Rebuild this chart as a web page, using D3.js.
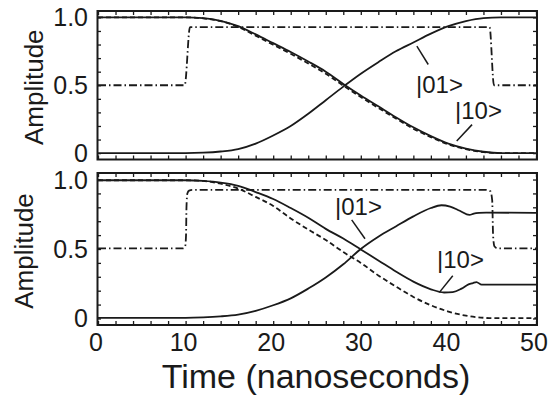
<!DOCTYPE html>
<html lang="en">
<head>
<meta charset="UTF-8"/>
<title>Amplitude vs time</title>
<script src="https://d3js.org/d3.v7.min.js"></script>
<style>
	body { margin: 0; background: #fff; }
	text { font-family: "Liberation Sans", Arial, sans-serif; fill: #1a1a1a; }
</style>
</head>
<body>
<script>
	// ***Data***
	// top panel
	var topSolidFallT = [0, 10, 12, 14, 16, 18, 20, 22, 24, 26, 28, 30, 32, 34, 36, 38, 40, 42, 44, 46, 50];
	var topSolidFallV = [1, 1, 0.995, 0.975, 0.935, 0.875, 0.81, 0.745, 0.675, 0.6, 0.51, 0.425, 0.345, 0.265, 0.19, 0.125, 0.07, 0.033, 0.01, 0, 0];
	var topDashT = [0, 10, 12, 14, 16, 18, 20, 22, 24, 26, 28, 30, 32, 34, 36, 38, 40, 42, 44, 46, 50];
	var topDashV = [1, 1, 0.993, 0.972, 0.93, 0.865, 0.798, 0.732, 0.66, 0.585, 0.497, 0.413, 0.333, 0.255, 0.18, 0.117, 0.064, 0.029, 0.008, 0, 0];
	var topSolidRiseT = [0, 10, 12, 14, 16, 18, 20, 22, 24, 26, 28, 30, 32, 34, 36, 38, 40, 42, 44, 46, 50];
	var topSolidRiseV = [0, 0, 0.003, 0.012, 0.03, 0.07, 0.13, 0.2, 0.29, 0.39, 0.49, 0.585, 0.67, 0.75, 0.815, 0.88, 0.935, 0.973, 0.995, 1, 1];
	var topPulseT = [0, 9.9, 10.5, 44.7, 45.2, 50];
	var topPulseV = [0.5, 0.5, 0.928, 0.928, 0.5, 0.5];

	// bottom panel
	var botSolidFallT = [0, 10, 12, 14, 16, 18, 20, 22, 24, 26, 28, 30, 32, 34, 36, 38, 39.5, 40.5, 41.5, 42.3, 42.8, 43.2, 43.8, 44.5, 50];
	var botSolidFallV = [0.995, 0.995, 0.99, 0.978, 0.955, 0.91, 0.86, 0.795, 0.725, 0.645, 0.575, 0.497, 0.418, 0.338, 0.265, 0.21, 0.187, 0.19, 0.215, 0.245, 0.255, 0.262, 0.243, 0.244, 0.244];
	var botDashT = [0, 10, 12, 14, 16, 18, 20, 22, 24, 26, 28, 30, 32, 34, 36, 38, 40, 42, 44, 45, 50];
	var botDashV = [0.995, 0.995, 0.99, 0.97, 0.935, 0.875, 0.81, 0.72, 0.64, 0.565, 0.478, 0.4, 0.31, 0.23, 0.155, 0.095, 0.05, 0.02, 0.005, 0.002, 0.002];
	var botSolidRiseT = [0, 10, 12, 14, 16, 18, 20, 22, 24, 26, 28, 30, 32, 34, 36, 38, 39.2, 40.2, 41.3, 42.4, 42.9, 43.5, 44.3, 50];
	var botSolidRiseV = [0.005, 0.005, 0.008, 0.015, 0.028, 0.055, 0.095, 0.145, 0.215, 0.295, 0.39, 0.5, 0.588, 0.662, 0.735, 0.795, 0.815, 0.805, 0.775, 0.745, 0.755, 0.76, 0.762, 0.76];
	var botPulseT = [0, 9.7, 9.95, 10.05, 10.1, 10.2, 10.4, 10.8, 44.3, 44.8, 45.0, 45.1, 45.25, 45.6, 50];
	var botPulseV = [0.505, 0.505, 0.52, 0.6, 0.8, 0.9, 0.92, 0.925, 0.925, 0.915, 0.85, 0.6, 0.52, 0.505, 0.505];

	var xTickLabels = [0, 10, 20, 30, 40, 50];
	var yTickLabels = [0, 0.5, 1.0];
	var yTickText = ["0", "0.5", "1.0"];
	// ***Data***

	var w = 557, h = 401;
	var svg = d3.select("body").append("svg").attr("width", w).attr("height", h);

	var xScale = d3.scaleLinear().domain([0, 50]).range([98, 536]);

	var panels = [
		{ top: 11, bottom: 159.5, labelX: 43, labels: [
			{ text: "|01>", t: 36.3, v: 0.446, l: [[36.4, 0.788], [37.7, 0.653]] },
			{ text: "|10>", t: 40.75, v: 0.255, l: [[42.7, 0.210], [40.95, 0.09]] }
		], series: [
			[topPulseT, topPulseV, "8,3,1.5,3"],
			[topDashT, topDashV, "5,3"],
			[topSolidFallT, topSolidFallV, null],
			[topSolidRiseT, topSolidRiseV, null]
		]},
		{ top: 173, bottom: 325, labelX: 33, labels: [
			{ text: "|01>", t: 27.05, v: 0.746, l: [[28.96, 0.71], [30.48, 0.574]] },
			{ text: "|10>", t: 38.7, v: 0.366, l: [[40.5, 0.308], [38.97, 0.188]] }
		], series: [
			[botPulseT, botPulseV, "8,3,1.5,3"],
			[botDashT, botDashV, "5,3"],
			[botSolidFallT, botSolidFallV, null],
			[botSolidRiseT, botSolidRiseV, null]
		]}
	];

	panels.forEach(function(p) {
		var yScale = d3.scaleLinear().domain([-0.047, 1.047]).range([p.bottom, p.top]);
		var g = svg.append("g");

		// minor ticks, pointing inward on all four sides
		var xt = d3.range(0, 51, 2);
		var yt = d3.range(0, 1.05, 0.1);
		g.append("g").attr("transform", "translate(0," + p.bottom + ")")
			.call(d3.axisTop(xScale).tickValues(xt).tickSize(4).tickFormat(""));
		g.append("g").attr("transform", "translate(0," + p.top + ")")
			.call(d3.axisBottom(xScale).tickValues(xt).tickSize(4).tickFormat(""));
		g.append("g").attr("transform", "translate(" + xScale(0) + ",0)")
			.call(d3.axisRight(yScale).tickValues(yt).tickSize(3).tickFormat(""));
		g.append("g").attr("transform", "translate(" + xScale(50) + ",0)")
			.call(d3.axisLeft(yScale).tickValues(yt).tickSize(3).tickFormat(""));
		g.selectAll(".domain").remove();
		g.selectAll(".tick line").attr("stroke", "#1a1a1a").attr("stroke-width", 1.3);

		// frame
		g.append("rect")
			.attr("x", 97.5).attr("y", p.top)
			.attr("width", 537 - 97.5).attr("height", p.bottom - p.top)
			.attr("fill", "none").attr("stroke", "#1a1a1a").attr("stroke-width", 2);

		// y tick labels
		g.selectAll(".ylab").data(yTickLabels).enter().append("text")
			.attr("x", 88).attr("y", function(d) { return yScale(d) + 9; })
			.attr("text-anchor", "end").attr("font-size", 25)
			.text(function(d, i) { return yTickText[i]; });

		// axis title
		g.append("text")
			.attr("transform", "translate(" + p.labelX + "," + ((p.top + p.bottom) / 2 + 2) + ") rotate(-90)")
			.attr("text-anchor", "middle").attr("font-size", 26)
			.text("Amplitude");

		// curves
		var line = d3.line()
			.x(function(d) { return xScale(d[0]); })
			.y(function(d) { return yScale(d[1]); })
			.curve(d3.curveMonotoneX);
		p.series.forEach(function(s) {
			var pts = s[0].map(function(t, i) { return [t, s[1][i]]; });
			g.append("path").datum(pts)
				.attr("d", line)
				.attr("fill", "none").attr("stroke", "#1a1a1a")
				.attr("stroke-width", 1.8)
				.attr("stroke-dasharray", s[2]);
		});

		// state labels with leader lines
		p.labels.forEach(function(a) {
			g.append("line")
				.attr("x1", xScale(a.l[0][0])).attr("y1", yScale(a.l[0][1]))
				.attr("x2", xScale(a.l[1][0])).attr("y2", yScale(a.l[1][1]))
				.attr("stroke", "#1a1a1a").attr("stroke-width", 1.5);
			g.append("text")
				.attr("x", xScale(a.t)).attr("y", yScale(a.v))
				.attr("font-size", 24)
				.text(a.text);
		});
	});

	// x tick labels under the lower panel
	svg.selectAll(".xlab").data(xTickLabels).enter().append("text")
		.attr("x", function(d) { return xScale(d) - 2; })
		.attr("y", 351)
		.attr("text-anchor", "middle").attr("font-size", 25)
		.text(function(d) { return d; });

	svg.append("text")
		.attr("x", 316).attr("y", 388)
		.attr("text-anchor", "middle").attr("font-size", 34)
		.text("Time (nanoseconds)");
</script>
</body>
</html>
